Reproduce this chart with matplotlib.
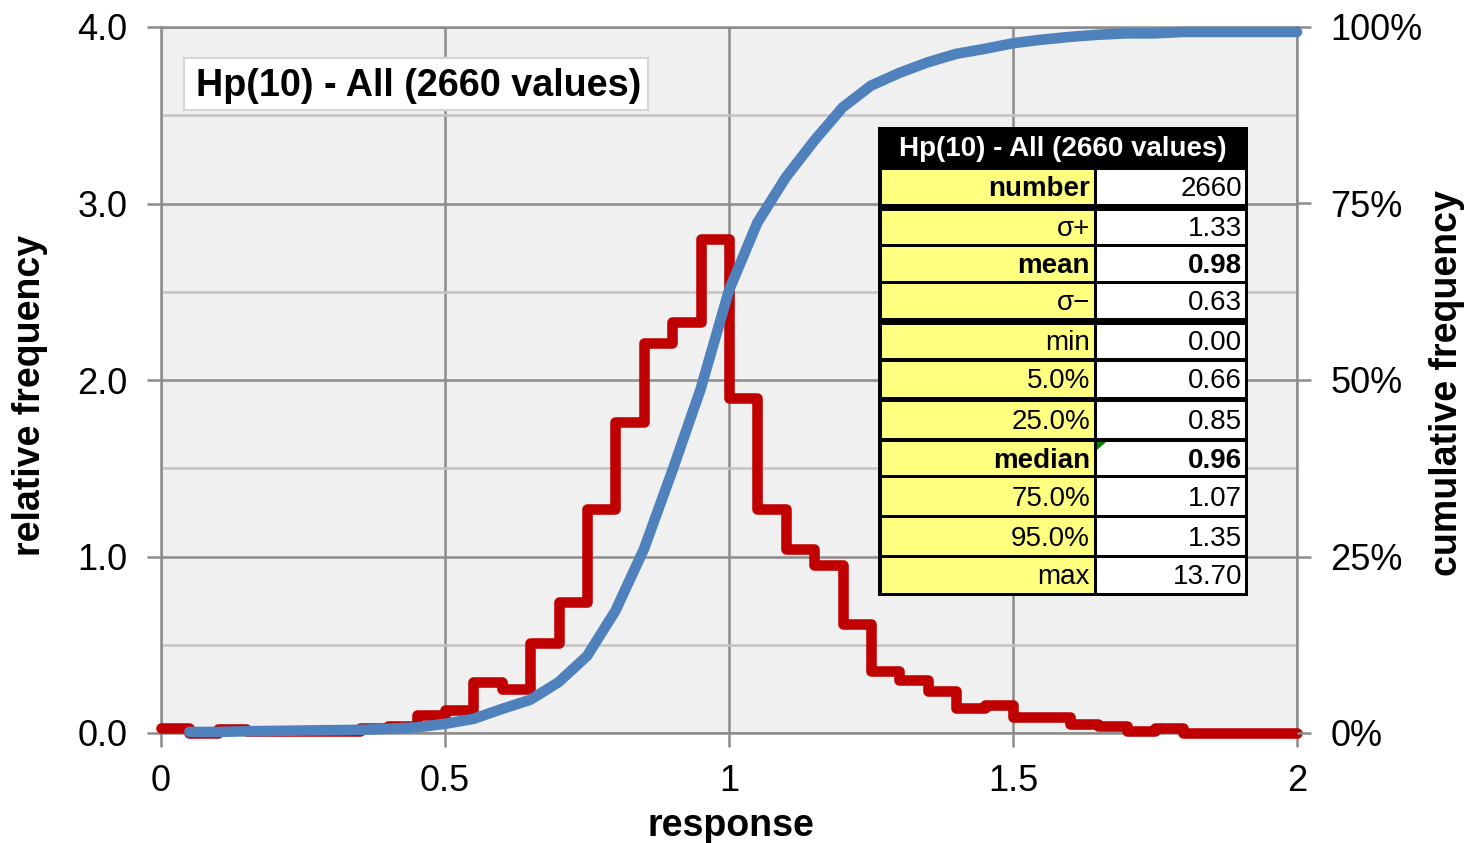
import matplotlib
matplotlib.use("Agg")
import matplotlib.pyplot as plt
from matplotlib.patches import Rectangle, Polygon
from matplotlib.ticker import FixedLocator
import numpy as np

plt.rcParams['font.family'] = ['Liberation Sans', 'DejaVu Sans']

# Histogram of the response, bin width 0.05 from 0 to 2
bin_edges = [round(0.05 * i, 2) for i in range(41)]
rel_freq = [0.03, 0.00, 0.02, 0.01, 0.01, 0.01, 0.01, 0.03, 0.04, 0.10,
            0.13, 0.29, 0.25, 0.51, 0.74, 1.27, 1.76, 2.21, 2.33, 2.80,
            1.90, 1.27, 1.04, 0.95, 0.62, 0.35, 0.30, 0.24, 0.14, 0.16,
            0.09, 0.09, 0.05, 0.04, 0.01, 0.03, 0.00, 0.00, 0.00, 0.00]

# Cumulative frequency (%) at the upper edge of each bin
cum_x = bin_edges[1:]
cum_pct = [0.15, 0.15, 0.25, 0.3, 0.35, 0.4, 0.45, 0.6, 0.8, 1.3,
           2.0, 3.4, 4.7, 7.2, 10.9, 17.3, 26.0, 37.1, 48.7, 62.7,
           72.3, 78.7, 83.9, 88.6, 91.7, 93.5, 95.0, 96.2, 96.9, 97.7,
           98.2, 98.6, 98.9, 99.1, 99.1, 99.3, 99.3, 99.3, 99.3, 99.3]

x_ticks = [0, 0.5, 1, 1.5, 2]
x_tick_labels = ['0', '0.5', '1', '1.5', '2']
y_ticks = [0, 1, 2, 3, 4]
y_tick_labels = ['0.0', '1.0', '2.0', '3.0', '4.0']
pct_ticks = [0, 25, 50, 75, 100]
pct_tick_labels = ['0%', '25%', '50%', '75%', '100%']

title = 'Hp(10) - All (2660 values)'
stat_names = ['number', 'σ+', 'mean', 'σ−', 'min', '5.0%', '25.0%',
              'median', '75.0%', '95.0%', 'max']
stat_values = ['2660', '1.33', '0.98', '0.63', '0.00', '0.66', '0.85',
               '0.96', '1.07', '1.35', '13.70']
bold_names = {'number', 'mean', 'median'}
bold_values = {'mean', 'median'}

W, H = 1468, 843
fig = plt.figure(figsize=(W / 100, H / 100), dpi=100)

L, R, T, B = 161, 1297, 27, 733
ax = fig.add_axes([L / W, 1 - B / H, (R - L) / W, (B - T) / H])
ax.set_facecolor('#f0f0f0')
ax.set_xlim(0, 2)
ax.set_ylim(0, 4)

grid_dark = '#8c8c8c'
grid_light = '#c4c4c4'
ax.set_xticks(x_ticks)
ax.set_xticklabels(x_tick_labels)
ax.set_yticks(y_ticks)
ax.set_yticklabels(y_tick_labels)
ax.yaxis.set_minor_locator(FixedLocator([0.5, 1.5, 2.5, 3.5]))
ax.grid(which='major', color=grid_dark, lw=1.8, zorder=0)
ax.grid(which='minor', axis='y', color=grid_light, lw=1.8, zorder=0)
ax.set_axisbelow(True)
ax.tick_params(which='major', direction='out', length=10, width=1.8,
               color=grid_dark, labelsize=26, pad=14)
ax.tick_params(axis='x', pad=12)
ax.tick_params(which='minor', length=0)
for s in ax.spines.values():
    s.set_color(grid_dark)
    s.set_linewidth(1.8)

ax.stairs(rel_freq, bin_edges, baseline=None, color='#c00000', lw=7.6,
          joinstyle='round', capstyle='round', clip_on=False, zorder=3)

ax2 = ax.twinx()
ax2.set_ylim(0, 100)
ax2.set_yticks(pct_ticks)
ax2.set_yticklabels(pct_tick_labels)
ax2.tick_params(direction='out', length=10, width=1.8, color=grid_dark,
                labelsize=26, pad=14)
for s in ax2.spines.values():
    s.set_visible(False)
ax2.plot(cum_x, cum_pct, color='#4f81bd', lw=7.6, solid_joinstyle='round',
         solid_capstyle='round', clip_on=False, zorder=4)

# Axis titles
fig.text(30 / W, 1 - 395 / H, 'relative frequency', rotation=90,
         ha='center', va='center', fontsize=27, fontweight='bold')
fig.text(1447 / W, 1 - 383 / H, 'cumulative frequency', rotation=90,
         ha='center', va='center', fontsize=27, fontweight='bold')
fig.text(731 / W, 1 - 826 / H, 'response', ha='center', va='center',
         fontsize=27, fontweight='bold')

# Overlay in pixel coordinates for the title box and statistics table
ov = fig.add_axes([0, 0, 1, 1], zorder=10)
ov.set_xlim(0, W)
ov.set_ylim(H, 0)
ov.axis('off')
ov.patch.set_alpha(0)

ov.add_patch(Rectangle((184, 58), 464, 52, facecolor='white',
                       edgecolor='#d6d6d6', lw=1.5))
ov.text(196, 86, title, ha='left', va='center', fontsize=27.2,
        fontweight='bold')

# Statistics table
ov.add_patch(Rectangle((878, 127), 370, 469, facecolor='black',
                       edgecolor='none'))
ov.text(1063, 149, title, ha='center', va='center', fontsize=20,
        fontweight='bold', color='white')
row_spans = [(170, 204), (211, 244), (247, 281), (284, 318), (325, 358),
             (362, 397), (402, 438), (442, 475), (478, 515), (518, 555),
             (558, 593)]
lx0, lx1 = 882, 1094
rx0, rx1 = 1097, 1245
for name, val, (y0, y1) in zip(stat_names, stat_values, row_spans):
    ov.add_patch(Rectangle((lx0, y0), lx1 - lx0, y1 - y0,
                           facecolor='#ffff80', edgecolor='none'))
    ov.add_patch(Rectangle((rx0, y0), rx1 - rx0, y1 - y0,
                           facecolor='white', edgecolor='none'))
    yc = (y0 + y1) / 2 + 2
    ov.text(lx1 - 4, yc, name, ha='right', va='center', fontsize=20,
            fontweight='bold' if name in bold_names else 'normal')
    ov.text(rx1 - 3, yc, val, ha='right', va='center', fontsize=20,
            fontweight='bold' if name in bold_values else 'normal')
    if name == 'median':
        ov.add_patch(Polygon([(rx0, y0), (rx0 + 9, y0), (rx0, y0 + 8)],
                             closed=True, facecolor='#008000',
                             edgecolor='none'))

fig.savefig('out.png', dpi=100)
